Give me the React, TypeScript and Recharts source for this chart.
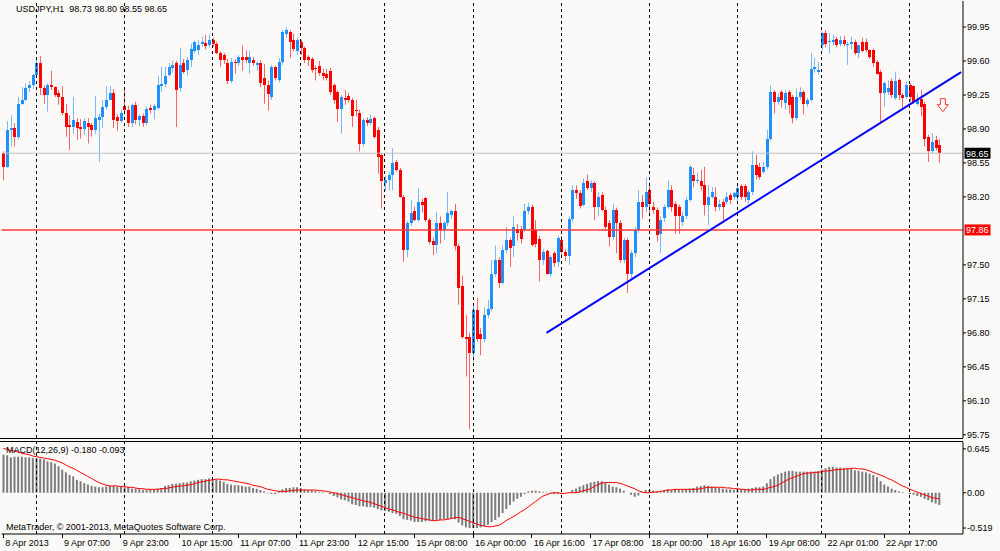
import {
  Bar,
  ComposedChart,
  Line,
  ReferenceDot,
  ReferenceLine,
  XAxis,
  YAxis,
} from "recharts"

const FONT = "'Liberation Sans', Arial, sans-serif"
const BG = "#fcf9f9"
const BULL = "#1e90ff"
const BEAR = "#ff0000"

// USDJPY H1 candles, bar 0 = 8 Apr 15:00
const OPENS = [
  98.65, 98.51, 98.89, 98.91, 98.82, 99.16, 99.2, 99.32, 99.35, 99.46,
  99.58, 99.32, 99.25, 99.35, 99.33, 99.27, 99.23, 99.06, 98.94, 98.92,
  98.97, 98.92, 98.9, 98.96, 98.94, 98.89, 98.99, 99.02, 99.13, 99.2,
  99.27, 99.02, 98.98, 99.14, 99.1, 98.96, 99.15, 98.99, 99.03, 98.96,
  99.12, 99.1, 99.12, 99.34, 99.36, 99.46, 99.53, 99.58, 99.32, 99.58,
  99.51, 99.61, 99.7, 99.71, 99.78, 99.79, 99.76, 99.82, 99.77, 99.68,
  99.66, 99.58, 99.39, 99.59, 99.58, 99.64, 99.64, 99.58, 99.61, 99.56,
  99.58, 99.42, 99.35, 99.23, 99.54, 99.4, 99.59, 99.88, 99.9, 99.82,
  99.7, 99.8, 99.73, 99.64, 99.62, 99.53, 99.55, 99.48, 99.47, 99.5,
  99.35, 99.28, 99.11, 99.22, 99.24, 99.2, 99.1, 99.06, 98.74, 98.99,
  98.96, 99.01, 98.89, 98.63, 98.34, 98.37, 98.43, 98.56, 98.48, 98.2,
  97.65, 97.93, 98.05, 97.96, 98.15, 98.19, 97.96, 97.75, 97.7, 97.93,
  97.86, 97.93, 98.01, 98.05, 97.69, 97.28, 96.76, 96.76, 96.59, 97.04,
  96.79, 96.74, 96.98, 97.05, 97.41, 97.55, 97.31, 97.65, 97.76, 97.69,
  97.87, 97.87, 97.86, 98.05, 98.1, 97.86, 97.77, 97.55, 97.64, 97.41,
  97.62, 97.53, 97.76, 97.63, 97.59, 97.97, 98.27, 98.24, 98.12, 98.36,
  98.29, 98.34, 98.1, 98.22, 98.07, 97.93, 97.79, 98.07, 97.93, 97.55,
  97.76, 97.41, 97.62, 97.86, 98.15, 98.1, 98.27, 98.1, 98.07, 97.82,
  97.98, 98.1, 98.27, 98.13, 98.1, 97.94, 98.0, 98.17, 98.43, 98.36,
  98.36, 98.32, 98.12, 98.2, 98.2, 98.1, 98.15, 98.15, 98.22, 98.2,
  98.2, 98.31, 98.31, 98.17, 98.25, 98.53, 98.51, 98.46, 98.51, 98.8,
  99.28, 99.18, 99.28, 99.17, 99.28, 99.23, 99.01, 99.23, 99.28, 99.16,
  99.2, 99.52, 99.49, 99.76, 99.885, 99.8, 99.8, 99.83, 99.78, 99.82,
  99.76, 99.78, 99.8, 99.68, 99.8, 99.8, 99.71, 99.71, 99.59, 99.49,
  99.27, 99.28, 99.39, 99.22, 99.4, 99.25, 99.23, 99.35, 99.34, 99.16,
  99.21, 99.16, 98.82, 98.67, 98.79, 98.73,
]

const HIGHS = [
  98.67, 98.98, 99.04, 98.96, 99.23, 99.33, 99.37, 99.39, 99.47, 99.62,
  99.65, 99.35, 99.37, 99.5, 99.34, 99.3, 99.34, 99.16, 99.04, 99.23,
  99.01, 99.0, 99.01, 99.01, 98.96, 99.24, 99.06, 99.2, 99.34, 99.34,
  99.31, 99.05, 99.1, 99.31, 99.14, 99.16, 99.18, 99.05, 99.06, 99.13,
  99.15, 99.16, 99.45, 99.54, 99.54, 99.58, 99.6, 99.6, 99.73, 99.62,
  99.64, 99.78, 99.81, 99.82, 99.85, 99.87, 99.87, 99.84, 99.8, 99.7,
  99.68, 99.62, 99.63, 99.62, 99.66, 99.76, 99.71, 99.71, 99.64, 99.6,
  99.61, 99.57, 99.4, 99.56, 99.55, 99.63, 99.92, 99.95, 99.92, 99.88,
  99.84, 99.82, 99.75, 99.66, 99.64, 99.55, 99.6, 99.52, 99.52, 99.53,
  99.37, 99.3, 99.25, 99.3, 99.27, 99.22, 99.2, 99.1, 99.01, 99.02,
  99.05, 99.03, 98.92, 98.65, 98.42, 98.46, 98.7, 98.58, 98.5, 98.22,
  97.95, 98.17, 98.1, 98.29, 98.18, 98.2, 97.98, 97.78, 98.05, 98.0,
  97.95, 98.25, 98.07, 98.13, 97.72, 97.39, 96.98, 96.8, 97.08, 97.16,
  96.85, 97.06, 97.14, 97.55, 97.7, 97.58, 97.7, 97.89, 97.78, 98.0,
  97.92, 97.9, 98.13, 98.14, 98.12, 97.96, 97.8, 97.66, 97.66, 97.6,
  97.64, 97.8, 97.8, 97.66, 98.0, 98.32, 98.32, 98.27, 98.39, 98.43,
  98.37, 98.36, 98.25, 98.25, 98.1, 97.96, 98.13, 98.09, 97.96, 97.78,
  97.78, 97.65, 97.89, 98.27, 98.22, 98.4, 98.35, 98.15, 98.09, 98.0,
  98.12, 98.37, 98.32, 98.15, 98.12, 98.05, 98.2, 98.53, 98.5, 98.45,
  98.48, 98.51, 98.32, 98.3, 98.3, 98.17, 98.18, 98.25, 98.24, 98.25,
  98.33, 98.33, 98.33, 98.27, 98.67, 98.63, 98.55, 98.56, 98.89, 99.35,
  99.3, 99.27, 99.3, 99.3, 99.3, 99.25, 99.32, 99.33, 99.3, 99.22,
  99.68, 99.63, 99.59, 99.9, 99.92, 99.885, 99.87, 99.85, 99.86, 99.86,
  99.8, 99.85, 99.82, 99.77, 99.84, 99.83, 99.72, 99.73, 99.61, 99.51,
  99.39, 99.4, 99.42, 99.49, 99.42, 99.27, 99.39, 99.37, 99.35, 99.27,
  99.3, 99.18, 98.84, 98.855, 98.83, 98.8,
]

const LOWS = [
  98.37, 98.5, 98.72, 98.72, 98.79, 99.15, 99.19, 99.28, 99.31, 99.45,
  99.25, 99.16, 99.08, 99.3, 99.23, 99.15, 99.04, 98.82, 98.68, 98.85,
  98.79, 98.8, 98.84, 98.75, 98.82, 98.85, 98.56, 98.91, 99.1, 99.2,
  98.91, 98.88, 98.96, 99.05, 98.92, 98.92, 98.95, 98.93, 98.92, 98.94,
  99.06, 99.0, 99.1, 99.28, 99.33, 99.44, 99.48, 98.92, 99.28, 99.47,
  99.45, 99.54, 99.68, 99.66, 99.75, 99.72, 99.74, 99.75, 99.67, 99.54,
  99.57, 99.36, 99.37, 99.47, 99.55, 99.5, 99.58, 99.47, 99.55, 99.5,
  99.33, 99.16, 99.09, 99.2, 99.4, 99.38, 99.56, 99.84, 99.63, 99.7,
  99.66, 99.66, 99.58, 99.55, 99.48, 99.4, 99.45, 99.4, 99.4, 99.25,
  99.16, 98.97, 98.85, 99.15, 99.17, 98.92, 99.03, 98.67, 98.72, 98.93,
  98.94, 98.8, 98.44, 98.08, 98.26, 98.27, 98.27, 98.46, 98.19, 97.53,
  97.58, 97.9, 97.95, 97.94, 98.04, 97.94, 97.71, 97.6, 97.62, 97.72,
  97.76, 97.9, 97.98, 97.65, 97.09, 96.74, 96.35, 95.81, 96.5, 96.71,
  96.57, 96.7, 96.95, 97.02, 97.38, 97.26, 97.3, 97.62, 97.48, 97.58,
  97.75, 97.72, 97.84, 98.02, 97.69, 97.68, 97.33, 97.5, 97.4, 97.38,
  97.48, 97.48, 97.6, 97.54, 97.5, 97.94, 98.18, 98.08, 98.1, 98.27,
  98.25, 97.96, 98.0, 98.05, 97.86, 97.69, 97.76, 97.62, 97.52, 97.52,
  97.21, 97.35, 97.58, 97.83, 97.98, 98.04, 98.0, 98.03, 97.74, 97.62,
  97.94, 98.08, 98.05, 97.82, 97.82, 97.9, 97.97, 98.15, 98.3, 98.34,
  98.27, 98.01, 97.91, 98.18, 98.05, 98.06, 97.93, 98.12, 98.13, 98.17,
  98.16, 98.17, 98.15, 98.13, 98.22, 98.38, 98.38, 98.44, 98.48, 98.78,
  99.06, 99.15, 99.12, 99.1, 99.06, 98.96, 98.99, 99.2, 99.05, 99.13,
  99.18, 99.48, 99.46, 99.71, 99.74, 99.68, 99.76, 99.74, 99.75, 99.75,
  99.56, 99.72, 99.66, 99.63, 99.69, 99.69, 99.62, 99.54, 99.46, 98.96,
  99.13, 99.25, 99.22, 99.2, 99.2, 99.11, 99.21, 99.18, 99.16, 99.14,
  99.03, 98.72, 98.56, 98.65, 98.68, 98.55,
]

const CLOSES = [
  98.51, 98.89, 98.91, 98.82, 99.16, 99.2, 99.32, 99.35, 99.46, 99.58,
  99.32, 99.25, 99.35, 99.33, 99.25, 99.23, 99.06, 98.92, 98.92, 98.99,
  98.91, 98.9, 98.98, 98.92, 98.89, 99.01, 99.02, 99.13, 99.2, 99.27,
  98.99, 98.98, 99.06, 99.1, 98.96, 99.15, 98.99, 99.03, 98.96, 99.11,
  99.1, 99.14, 99.35, 99.36, 99.45, 99.54, 99.56, 99.3, 99.56, 99.49,
  99.61, 99.72, 99.8, 99.76, 99.8, 99.75, 99.82, 99.78, 99.68, 99.61,
  99.61, 99.39, 99.59, 99.58, 99.64, 99.61, 99.61, 99.64, 99.58, 99.58,
  99.37, 99.35, 99.26, 99.54, 99.42, 99.59, 99.9, 99.92, 99.8, 99.72,
  99.82, 99.73, 99.61, 99.61, 99.51, 99.52, 99.48, 99.45, 99.42, 99.28,
  99.2, 99.11, 99.23, 99.2, 99.2, 99.03, 99.08, 98.74, 98.99, 98.96,
  99.0, 98.82, 98.61, 98.36, 98.37, 98.43, 98.55, 98.48, 98.2, 97.65,
  97.93, 98.03, 97.96, 98.15, 98.12, 97.96, 97.74, 97.7, 97.93, 97.86,
  97.93, 98.03, 98.05, 97.69, 97.26, 96.76, 96.74, 96.59, 97.04, 96.74,
  96.74, 96.98, 97.05, 97.41, 97.55, 97.31, 97.65, 97.76, 97.67, 97.89,
  97.83, 97.77, 98.05, 98.1, 97.7, 97.72, 97.55, 97.63, 97.41, 97.58,
  97.52, 97.78, 97.63, 97.59, 97.97, 98.27, 98.24, 98.11, 98.34, 98.29,
  98.34, 98.1, 98.2, 98.07, 97.89, 97.79, 98.07, 97.93, 97.55, 97.76,
  97.41, 97.62, 97.86, 98.15, 98.1, 98.25, 98.13, 98.07, 97.81, 97.96,
  98.1, 98.27, 98.1, 98.0, 98.0, 98.0, 98.17, 98.51, 98.36, 98.37,
  98.31, 98.12, 98.2, 98.25, 98.1, 98.13, 98.1, 98.2, 98.17, 98.24,
  98.29, 98.2, 98.2, 98.25, 98.53, 98.43, 98.41, 98.51, 98.8, 99.28,
  99.18, 99.23, 99.2, 99.27, 99.15, 99.01, 99.23, 99.28, 99.16, 99.2,
  99.52, 99.54, 99.51, 99.885, 99.78, 99.81, 99.82, 99.76, 99.82, 99.77,
  99.78, 99.8, 99.68, 99.76, 99.7, 99.71, 99.64, 99.58, 99.47, 99.27,
  99.37, 99.32, 99.25, 99.39, 99.25, 99.22, 99.35, 99.23, 99.18, 99.21,
  99.13, 98.8, 98.67, 98.77, 98.7, 98.65,
]

// MACD(12,26,9): main (histogram) and signal
const MACD_MAIN = [
  0.56, 0.55, 0.52, 0.53, 0.53, 0.53, 0.52, 0.52, 0.51, 0.51,
  0.5, 0.49, 0.46, 0.45, 0.43, 0.39, 0.34, 0.3, 0.26, 0.24,
  0.19, 0.17, 0.14, 0.12, 0.1, 0.09, 0.08, 0.08, 0.09, 0.1,
  0.1, 0.09, 0.09, 0.08, 0.08, 0.06, 0.06, 0.05, 0.04, 0.04,
  0.05, 0.05, 0.06, 0.07, 0.1, 0.11, 0.13, 0.13, 0.14, 0.15,
  0.15, 0.17, 0.18, 0.19, 0.2, 0.2, 0.21, 0.2, 0.19, 0.18,
  0.16, 0.13, 0.12, 0.11, 0.11, 0.1, 0.09, 0.09, 0.07, 0.06,
  0.04, 0.02, -0.01, -0.02, -0.02, 0.02, 0.05, 0.07, 0.07, 0.08,
  0.08, 0.07, 0.05, 0.04, 0.04, 0.03, 0.01, 0.01, 0.0, -0.02,
  -0.05, -0.07, -0.1, -0.11, -0.13, -0.17, -0.18, -0.2, -0.2, -0.21,
  -0.21, -0.22, -0.24, -0.26, -0.27, -0.28, -0.3, -0.31, -0.34, -0.39,
  -0.4, -0.41, -0.43, -0.43, -0.43, -0.42, -0.41, -0.41, -0.4, -0.4,
  -0.39, -0.39, -0.38, -0.39, -0.44, -0.48, -0.51, -0.52, -0.52, -0.52,
  -0.51, -0.49, -0.47, -0.43, -0.4, -0.36, -0.3, -0.24, -0.18, -0.13,
  -0.09, -0.06, -0.02, 0.02, 0.03, 0.03, 0.02, 0.01, -0.01, -0.01,
  -0.02, -0.02, -0.01, 0.0, 0.01, 0.04, 0.06, 0.09, 0.11, 0.13,
  0.15, 0.16, 0.17, 0.17, 0.15, 0.12, 0.09, 0.08, 0.06, 0.03,
  0.0, -0.03, -0.06, -0.04, 0.01, 0.04, 0.04, 0.03, 0.02, 0.02,
  0.03, 0.05, 0.04, 0.05, 0.05, 0.05, 0.05, 0.06, 0.07, 0.09,
  0.1, 0.11, 0.1, 0.09, 0.08, 0.07, 0.06, 0.05, 0.05, 0.04,
  0.05, 0.05, 0.05, 0.06, 0.07, 0.08, 0.08, 0.09, 0.14, 0.2,
  0.24, 0.27, 0.29, 0.31, 0.32, 0.32, 0.31, 0.31, 0.31, 0.31,
  0.31, 0.31, 0.32, 0.34, 0.36, 0.38, 0.38, 0.37, 0.37, 0.36,
  0.36, 0.35, 0.33, 0.32, 0.31, 0.3, 0.28, 0.26, 0.23, 0.17,
  0.12, 0.09, 0.06, 0.04, 0.02, 0.01, 0.0, -0.02, -0.03, -0.05,
  -0.06, -0.09, -0.11, -0.14, -0.16, -0.18,
]

const MACD_SIGNAL = [
  0.65, 0.64, 0.62, 0.61, 0.6, 0.58, 0.57, 0.56, 0.54, 0.53,
  0.52, 0.51, 0.5, 0.49, 0.48, 0.46, 0.44, 0.41, 0.38, 0.36,
  0.33, 0.3, 0.27, 0.24, 0.21, 0.18, 0.15, 0.13, 0.11, 0.1,
  0.1, 0.1, 0.09, 0.09, 0.08, 0.08, 0.07, 0.06, 0.06, 0.05,
  0.05, 0.05, 0.05, 0.06, 0.06, 0.07, 0.08, 0.09, 0.1, 0.1,
  0.11, 0.12, 0.13, 0.15, 0.16, 0.17, 0.18, 0.19, 0.2, 0.2,
  0.19, 0.19, 0.18, 0.17, 0.16, 0.15, 0.14, 0.13, 0.11, 0.1,
  0.09, 0.07, 0.05, 0.04, 0.03, 0.02, 0.02, 0.02, 0.03, 0.03,
  0.04, 0.04, 0.04, 0.04, 0.04, 0.04, 0.03, 0.03, 0.02, 0.01,
  0.0, -0.01, -0.03, -0.04, -0.06, -0.07, -0.09, -0.1, -0.12, -0.13,
  -0.14, -0.16, -0.18, -0.2, -0.22, -0.24, -0.25, -0.27, -0.29, -0.3,
  -0.32, -0.34, -0.36, -0.37, -0.38, -0.39, -0.4, -0.41, -0.41, -0.4,
  -0.4, -0.39, -0.38, -0.37, -0.36, -0.38, -0.4, -0.42, -0.44, -0.46,
  -0.48, -0.49, -0.5, -0.5, -0.49, -0.48, -0.45, -0.41, -0.38, -0.35,
  -0.32, -0.28, -0.25, -0.21, -0.17, -0.13, -0.09, -0.05, -0.03, -0.01,
  0.0, 0.0, -0.01, -0.01, 0.0, 0.0, 0.0, 0.01, 0.03, 0.04,
  0.06, 0.09, 0.12, 0.14, 0.15, 0.15, 0.15, 0.15, 0.14, 0.12,
  0.1, 0.08, 0.06, 0.03, 0.01, 0.0, 0.0, 0.01, 0.01, 0.02,
  0.03, 0.04, 0.04, 0.05, 0.05, 0.05, 0.05, 0.05, 0.05, 0.05,
  0.06, 0.07, 0.08, 0.08, 0.08, 0.08, 0.08, 0.07, 0.07, 0.06,
  0.06, 0.05, 0.05, 0.04, 0.04, 0.05, 0.05, 0.05, 0.06, 0.08,
  0.09, 0.11, 0.14, 0.17, 0.2, 0.22, 0.24, 0.26, 0.28, 0.29,
  0.29, 0.3, 0.3, 0.31, 0.32, 0.32, 0.33, 0.34, 0.34, 0.35,
  0.35, 0.36, 0.36, 0.35, 0.35, 0.34, 0.32, 0.3, 0.28, 0.26,
  0.24, 0.21, 0.19, 0.16, 0.13, 0.1, 0.08, 0.05, 0.03, 0.01,
  -0.01, -0.03, -0.05, -0.07, -0.08, -0.09,
]

// empty bars on the right (chart shift)
const EMPTY_BARS = 6

const DAY_STARTS = [9, 33, 57, 81, 104, 128, 152, 176, 200, 223, 247]
const TIME_TICK_BARS = [0, 16, 32, 48, 64, 80, 96, 112, 128, 144, 160, 176, 192, 208, 224, 240]
const TIME_LABELS = [
  "8 Apr 2013", "9 Apr 07:00", "9 Apr 23:00", "10 Apr 15:00",
  "11 Apr 07:00", "11 Apr 23:00", "12 Apr 15:00", "15 Apr 08:00",
  "16 Apr 00:00", "16 Apr 16:00", "17 Apr 08:00", "18 Apr 00:00",
  "18 Apr 16:00", "19 Apr 08:00", "22 Apr 01:00", "22 Apr 17:00",
]
const PRICE_TICKS = [95.75, 96.1, 96.45, 96.8, 97.15, 97.5, 98.2, 98.55, 98.9, 99.25, 99.6, 99.95]
const MACD_TICKS = [-0.519, 0, 0.645]

const BID = 98.65
const LEVEL = 97.86
const TREND_BARS = [148, 261]
const TREND_PRICES = [96.8, 99.485]
const ARROW_BAR = 256
const ARROW_PRICE = 99.14

const rows = Array.from({ length: CLOSES.length + EMPTY_BARS }, (_, i) => {
  const k = TREND_BARS.indexOf(i)
  return {
    i,
    o: OPENS[i],
    h: HIGHS[i],
    l: LOWS[i],
    c: CLOSES[i],
    m: MACD_MAIN[i],
    s: MACD_SIGNAL[i],
    t: k >= 0 ? TREND_PRICES[k] : null,
  }
})

const Candle = (props: any) => {
  const { x, y, width, height, payload } = props
  if (!payload || payload.h == null) return null
  const { o, h, l, c } = payload
  const top = Math.min(y, y + height)
  const hgt = Math.abs(height)
  const span = h - l || 1
  const py = (v: number) => top + ((h - v) / span) * hgt
  const color = c >= o ? BULL : BEAR
  const cx = Math.round(x + width / 2) + 0.5
  const b1 = py(Math.max(o, c))
  const b2 = py(Math.min(o, c))
  return (
    <g>
      <line x1={cx} x2={cx} y1={top} y2={top + hgt} stroke={color} strokeOpacity={0.6} />
      <rect
        x={cx - 1.5}
        y={b1}
        width={3}
        height={Math.max(b2 - b1, 1)}
        fill={color}
        shapeRendering="crispEdges"
      />
    </g>
  )
}

const PriceTag = ({ viewBox, text, bg }: any) => {
  if (!viewBox) return null
  const x = viewBox.x + viewBox.width + 1.5
  const y = viewBox.y
  return (
    <g>
      <rect x={x} y={y - 5.5} width={26} height={11} fill={bg} />
      <text x={x + 1.5} y={y + 3.3} fontSize={9} fontFamily={FONT} fill="#fff">
        {text}
      </text>
    </g>
  )
}

const DownArrow = (props: any) => {
  const { cx, cy } = props
  if (cx == null || cy == null) return null
  const d = `M${cx - 2.5},${cy - 7} h5 v6 h3 l-5.5,7 l-5.5,-7 h3 z`
  return <path d={d} fill="#fff" stroke="#ff3030" strokeWidth={1} />
}

const TimeTick = (props: any) => {
  const { x, y, payload } = props
  const k = TIME_TICK_BARS.indexOf(payload.value)
  return (
    <g>
      <line x1={x} x2={x} y1={y} y2={y + 4} stroke="#000" shapeRendering="crispEdges" />
      <text x={x + 2} y={y + 12} fontSize={9} fontFamily={FONT} fill="#000">
        {TIME_LABELS[k]}
      </text>
    </g>
  )
}

const axisTick = { fontSize: 9, fill: "#000", fontFamily: FONT }

const overlayText = {
  position: "absolute" as const,
  fontFamily: FONT,
  fontSize: 9,
  lineHeight: "11px",
  color: "#000",
  whiteSpace: "pre" as const,
}

export default function App() {
  return (
    <div
      style={{
        position: "absolute",
        left: 0,
        top: 0,
        width: 1000,
        height: 551,
        background: BG,
        overflow: "hidden",
      }}
    >
      <div style={{ position: "absolute", left: 0, top: 0 }}>
        <ComposedChart
          width={1000}
          height={440}
          data={rows}
          margin={{ top: 1, right: 0, bottom: 2, left: 1.5 }}
        >
          <XAxis dataKey="i" hide />
          <YAxis
            orientation="right"
            width={37}
            domain={[95.717, 100.218]}
            allowDataOverflow
            ticks={PRICE_TICKS}
            interval={0}
            tickFormatter={(v: number) => v.toFixed(2)}
            tick={axisTick}
            tickSize={3}
            tickMargin={1}
            stroke="#000"
          />
          {DAY_STARTS.map((d) => (
            <ReferenceLine
              key={d}
              x={d}
              stroke="#000"
              strokeDasharray="3 3"
              shapeRendering="crispEdges"
            />
          ))}
          <ReferenceLine
            y={BID}
            stroke="#c0c0c0"
            label={(p: any) => <PriceTag {...p} text="98.65" bg="#000" />}
          />
          <ReferenceLine
            y={LEVEL}
            stroke="#ff3a3a"
            strokeWidth={1.5}
            label={(p: any) => <PriceTag {...p} text="97.86" bg="#ff0000" />}
          />
          <Bar
            dataKey={(d: any) => (d.h == null ? null : [d.l, d.h])}
            shape={Candle}
            isAnimationActive={false}
          />
          <Line
            dataKey="t"
            stroke="#0000ff"
            strokeWidth={2}
            dot={false}
            connectNulls
            isAnimationActive={false}
          />
          <ReferenceDot
            x={ARROW_BAR}
            y={ARROW_PRICE}
            r={6}
            shape={DownArrow}
            ifOverflow="visible"
          />
        </ComposedChart>
      </div>

      <div style={{ position: "absolute", left: 0, top: 438, width: 963, height: 1, background: "#000" }} />
      <div style={{ position: "absolute", left: 0, top: 441, width: 963, height: 1, background: "#000" }} />

      <div style={{ position: "absolute", left: 0, top: 441 }}>
        <ComposedChart
          width={1000}
          height={110}
          data={rows}
          margin={{ top: 1, right: 0, bottom: 0, left: 1.5 }}
        >
          <XAxis
            dataKey="i"
            ticks={TIME_TICK_BARS}
            interval={0}
            height={17}
            tickSize={0}
            tickMargin={0}
            tickLine={false}
            tick={<TimeTick />}
            stroke="#000"
          />
          <YAxis
            orientation="right"
            width={37}
            domain={[-0.607, 0.746]}
            allowDataOverflow
            ticks={MACD_TICKS}
            interval={0}
            tickFormatter={(v: number) => (v === 0 ? "0.00" : String(v))}
            tick={axisTick}
            tickSize={3}
            tickMargin={1}
            stroke="#000"
          />
          {DAY_STARTS.map((d) => (
            <ReferenceLine
              key={d}
              x={d}
              stroke="#000"
              strokeDasharray="3 3"
              shapeRendering="crispEdges"
            />
          ))}
          <Bar dataKey="m" fill="#7c7c7c" barSize={2} isAnimationActive={false} />
          <Line
            dataKey="s"
            stroke="#ff0000"
            strokeWidth={1}
            dot={false}
            isAnimationActive={false}
          />
        </ComposedChart>
      </div>

      <div style={{ ...overlayText, left: 16, top: 4 }}>USDJPY,H1  98.73 98.80 98.55 98.65</div>
      <div style={{ ...overlayText, left: 6, top: 445 }}>MACD(12,26,9) -0.180 -0.093</div>
      <div style={{ ...overlayText, left: 6, top: 522 }}>
        MetaTrader, © 2001-2013, MetaQuotes Software Corp.
      </div>
    </div>
  )
}
